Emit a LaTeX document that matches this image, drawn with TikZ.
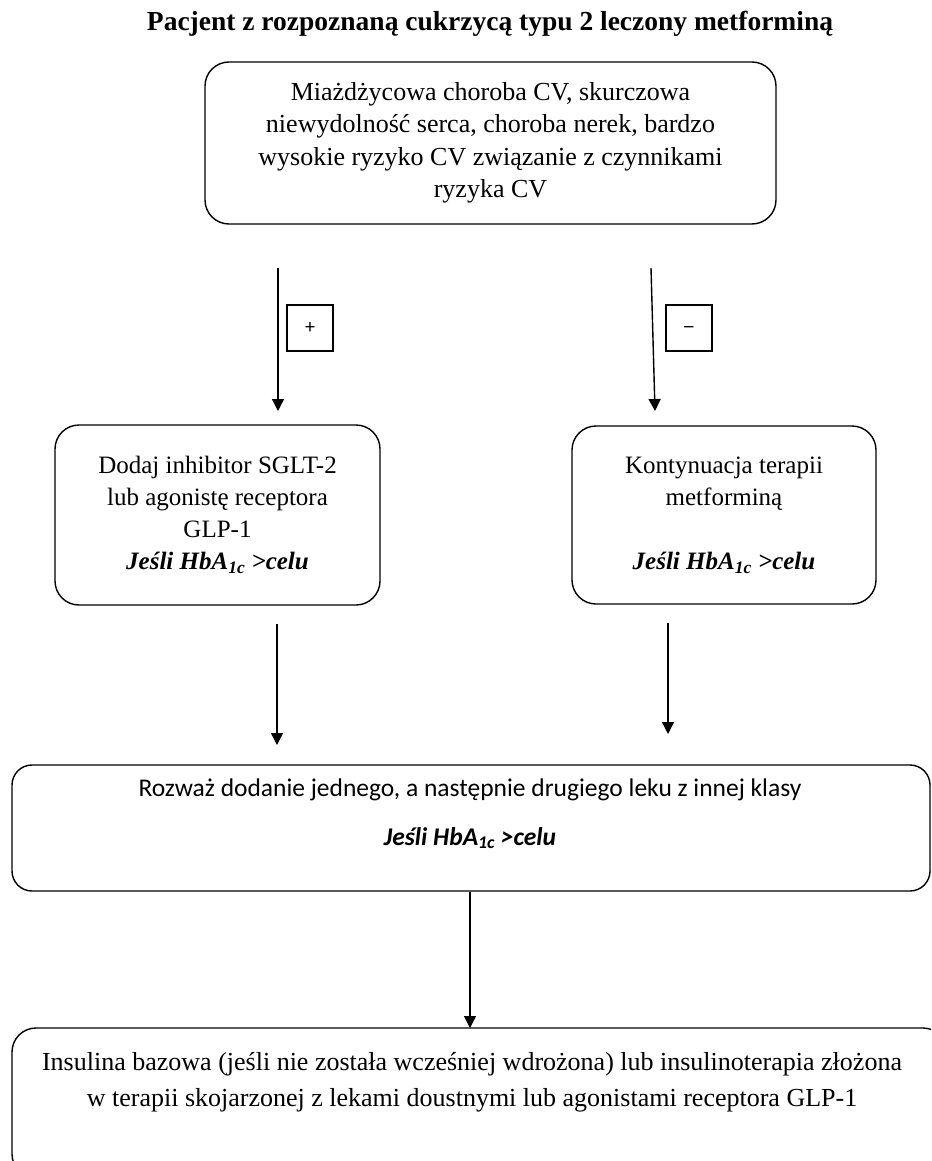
\documentclass[tikz,border=0pt]{standalone}
\usepackage{fontspec}
\setmainfont{Liberation Serif}
\newfontfamily\calib{Carlito}
\newfontfamily\lsans{Liberation Sans}
\usetikzlibrary{arrows.meta}
\newcommand{\hbaline}{\textbf{\textit{Jeśli HbA\textsubscript{1c} >celu}}}
\tikzset{
  box/.style={draw, line width=1.4pt, rounded corners=24pt, inner sep=0pt, align=center},
  bodytext/.style={font=\fontsize{26}{32.5}\selectfont, align=center, inner sep=0pt},
  smalltext/.style={font=\fontsize{25}{32}\selectfont, align=center, inner sep=0pt},
  arr/.style={line width=1.4pt, -{Triangle[width=12pt,length=12pt]}},
  signbox/.style={draw, line width=1.4pt, minimum size=46pt, inner sep=0pt, text height=13pt, text depth=3pt, font=\calib\fontsize{20}{24}\selectfont},
}
\begin{document}
\begin{tikzpicture}[x=1pt,y=-1pt]
\useasboundingbox (0,0) rectangle (931,1161);
\clip (0,0) rectangle (931,1161);

% title
\node[font=\bfseries\fontsize{27.5}{32}\selectfont, inner sep=0pt] (title) at (490,24) {Pacjent z rozpoznaną cukrzycą typu 2 leczony metforminą};

% top box
\node[box, bodytext, minimum width=571pt, minimum height=162pt] (topbox) at (490.5,143)
  {Miażdżycowa choroba CV, skurczowa\\niewydolność serca, choroba nerek, bardzo\\wysokie ryzyko CV związanie z czynnikami\\ryzyka CV};

% arrows from top box
\coordinate (a1s) at (278,268);
\coordinate (a1e) at (278,411);
\coordinate (a2s) at (651,268);
\coordinate (a2e) at (655,411);
\draw[arr] (a1s) -- (a1e);
\draw[arr] (a2s) -- (a2e);
\node[signbox] (plus) at (310,328) {+};
\node[signbox] (minus) at (689,328) {\lsans\fontsize{19}{24}\selectfont −};

% middle-level boxes
\node[box, smalltext, minimum width=325pt, minimum height=180pt] (leftbox) at (217.5,515)
  {Dodaj inhibitor SGLT-2\\lub agonistę receptora\\GLP-1\\\hbaline};
\node[box, smalltext, minimum width=304pt, minimum height=178pt] (rightbox) at (724,515)
  {Kontynuacja terapii\\metforminą\\[32pt]\hbaline};

% arrows to middle box
\coordinate (b1s) at (277,624);
\coordinate (b1e) at (277,745);
\coordinate (b2s) at (668,623);
\coordinate (b2e) at (668,734);
\draw[arr] (b1s) -- (b1e);
\draw[arr] (b2s) -- (b2e);

% middle wide box
\node[box, rounded corners=20pt, minimum width=918pt, minimum height=126pt] (midbox) at (471,828) {};
\node[font=\calib\fontsize{25.5}{30}\selectfont, inner sep=0pt] (midt1) at (470,790)
  {Rozważ dodanie jednego, a następnie drugiego leku z innej klasy};
\node[font=\calib\bfseries\itshape\fontsize{25.5}{30}\selectfont, inner sep=0pt] (midt2) at (470,838)
  {Jeśli HbA\textsubscript{1c} >celu};

% arrow to bottom box
\coordinate (c1e) at (470,1028);
\draw[arr] (midbox.south -| c1e) -- (c1e);

% bottom box
\node[box, minimum width=935pt, minimum height=150pt] (botbox) at (479.5,1103) {};
\node[bodytext, font=\fontsize{26}{36}\selectfont] (bott) at (472,1082)
  {Insulina bazowa (jeśli nie została wcześniej wdrożona) lub insulinoterapia złożona\\w terapii skojarzonej z lekami doustnymi lub agonistami receptora GLP-1};
\end{tikzpicture}
\end{document}
